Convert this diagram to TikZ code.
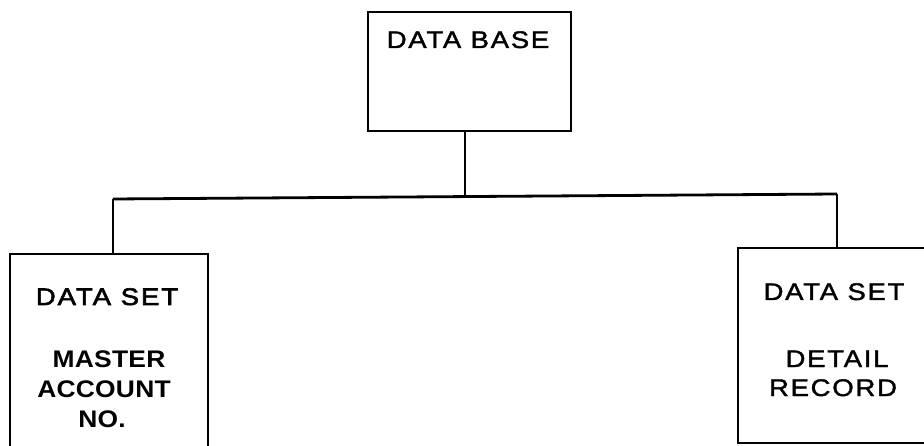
\documentclass[tikz,border=0pt]{standalone}
\usepackage{fontspec}
\setmainfont{Liberation Sans}
% wide, slightly heavy face for the box captions
\newfontfamily\capfont[FakeStretch=1.15,FakeBold=1.5,LetterSpace=7]{Liberation Sans}
\newfontfamily\capheavyfont[FakeStretch=1.15,FakeBold=2.5,LetterSpace=8]{Liberation Sans}
\newfontfamily\capboldfont[FakeStretch=1.1,LetterSpace=1]{Liberation Sans Bold}
\begin{document}
\begin{tikzpicture}[x=1pt,y=-1pt,
  box/.style={draw,line width=2.8pt,rectangle,inner sep=0pt},
  label/.style={anchor=base,inner sep=0pt,font=\capfont\fontsize{24}{28}\selectfont},
  heavylabel/.style={anchor=base,inner sep=0pt,font=\capheavyfont\fontsize{24}{28}\selectfont},
  boldlabel/.style={anchor=base,inner sep=0pt,font=\capboldfont\fontsize{24}{28}\selectfont},
  link/.style={line width=2.8pt}]
  \useasboundingbox (0,0) rectangle (924,446);
  \clip (0,0) rectangle (924,446);

  % boxes
  \node[box,minimum width=203pt,minimum height=119pt] (db) at (469.5,71.5) {};
  \node[box,minimum width=198pt,minimum height=220pt] (master) at (109,364) {};
  \node[box,minimum width=207pt,minimum height=195pt] (detail) at (841.5,345.5) {};

  % labels
  \node[label] (dbt) at (468,48) {DATA BASE};
  \node[heavylabel] (mt1) at (107,305) {DATA SET};
  \node[boldlabel] (mt2) at (109,367) {MASTER};
  \node[boldlabel] (mt3) at (104,397) {ACCOUNT};
  \node[boldlabel] (mt4) at (102,427) {NO.};
  \node[label] (dt1) at (834,300) {DATA SET};
  \node[label] (dt2) at (837,367) {DETAIL};
  \node[label] (dt3) at (833,396) {RECORD};

  % tree connectors
  \coordinate (bus) at (465,196);
  \coordinate (lefthook) at (113,199);
  \coordinate (righthook) at (837,194);
  \draw[link] (db.south -| bus) -- (bus);
  \draw[link] (lefthook) -- (righthook);
  \draw[link] (lefthook) -- (lefthook |- master.north);
  \draw[link] (righthook) -- (righthook |- detail.north);
\end{tikzpicture}
\end{document}
